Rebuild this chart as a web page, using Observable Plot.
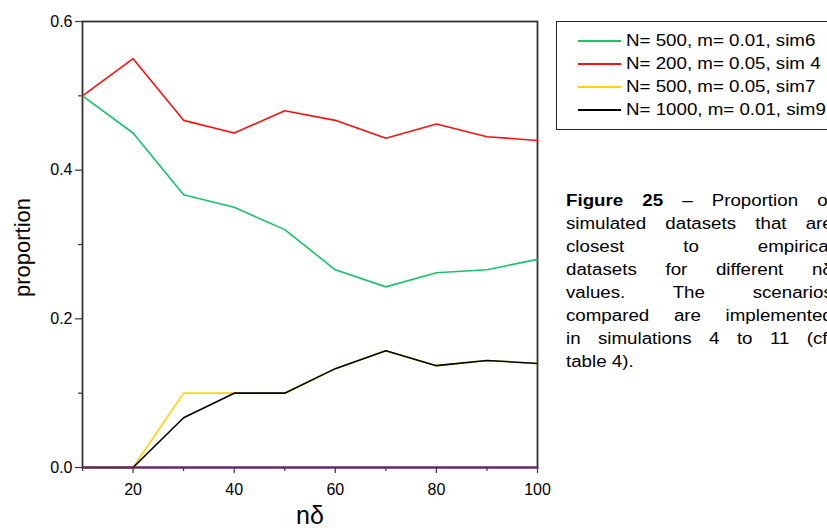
<!DOCTYPE html>
<html>
<head>
<meta charset="utf-8">
<script src="https://cdn.jsdelivr.net/npm/d3@7"></script>
<script src="https://cdn.jsdelivr.net/npm/@observablehq/plot@0.6"></script>
<style>
  html, body { margin: 0; padding: 0; background: #fff; }
  body { width: 827px; height: 532px; overflow: hidden; position: relative;
         font-family: "Liberation Sans", Arial, sans-serif; }
  #chart { position: absolute; left: 0; top: 0; }
  #legend { position: absolute; left: 556px; top: 21px; width: 300px; height: 109px;
            border: 1px solid #222; box-sizing: border-box; background: #fff; }
  .lg-row { position: absolute; left: 21px; height: 20px; display: flex; align-items: center;
            font-size: 16px; color: #000; white-space: nowrap; }
  .lg-row .swatch { display: inline-block; width: 43px; height: 2px; margin-right: 5px; }
  .lg-row .txt { display: inline-block; transform: scaleX(1.17); transform-origin: left center; }
  #caption { position: absolute; left: 566px; top: 189px; width: 228px;
             font-size: 16px; line-height: 23px; color: #000;
             transform: scaleX(1.17); transform-origin: left top; }
  #caption .ln { display: block; text-align: justify; text-align-last: justify; white-space: nowrap; }
  #caption .ln.last { text-align-last: left; }
</style>
</head>
<body>
<div id="chart"></div>
<div id="legend"></div>
<div id="caption"></div>
<script>
// nδ values on the x axis
const nDelta = [10, 20, 30, 40, 50, 60, 70, 80, 90, 100];

// proportion of closest simulated datasets, one array per scenario
const sim6 = [0.5, 0.45, 0.367, 0.35, 0.32, 0.266, 0.243, 0.262, 0.266, 0.28];
const sim4 = [0.5, 0.55, 0.467, 0.45, 0.48, 0.467, 0.443, 0.462, 0.445, 0.44];
const sim7 = [0, 0, 0.1, 0.1, 0.1, 0.133, 0.157, 0.137, 0.144, 0.14];
const sim9 = [0, 0, 0.067, 0.1, 0.1, 0.133, 0.157, 0.137, 0.144, 0.14];
// remaining scenarios, never closest
const others = [0, 0, 0, 0, 0, 0, 0, 0, 0, 0];

const seriesNames = ["N= 500, m= 0.01, sim6", "N= 200, m= 0.05, sim 4", "N= 500, m= 0.05, sim7", "N= 1000, m= 0.01, sim9"];
const seriesColors = ["#16c468", "#ff1010", "#ffd400", "#000000"];
const othersColor = "#6a1c78";

const yTicks = [0, 0.2, 0.4, 0.6];
const yMinor = [0.1, 0.3, 0.5];
const xTicks = [20, 40, 60, 80, 100];
const xMinor = [10, 30, 50, 70, 90];

const toRows = (vals) => nDelta.map((x, i) => ({x, y: vals[i]}));

const lineOpts = {x: "x", y: "y", strokeWidth: 1.6, strokeLinejoin: "round"};
const tickStyle = {stroke: "#333", strokeWidth: 1.2, label: null};

const chart = Plot.plot({
  width: 827,
  height: 532,
  marginLeft: 82,
  marginRight: 290,
  marginTop: 21,
  marginBottom: 65,
  style: {fontFamily: "'Liberation Sans', Arial, sans-serif", fontSize: "16px", color: "#000", background: "#fff"},
  x: {domain: [10, 100], label: null},
  y: {domain: [0, 0.6], label: null},
  marks: [
    Plot.frame({stroke: "#333", strokeWidth: 1.8}),
    // minor ticks
    Plot.axisY(yMinor, {...tickStyle, tickSize: 4, tickFormat: () => ""}),
    Plot.axisX(xMinor, {...tickStyle, tickSize: 4, tickFormat: () => ""}),
    // major ticks with labels
    Plot.axisY(yTicks, {...tickStyle, tickSize: 7, tickPadding: 3, tickFormat: d3.format(".1f"), fontSize: 16}),
    Plot.axisX(xTicks, {...tickStyle, tickSize: 6, tickPadding: 10, tickFormat: d3.format("d"), fontSize: 16}),
    // series
    Plot.line(toRows(sim6), {...lineOpts, stroke: seriesColors[0]}),
    Plot.line(toRows(sim7), {...lineOpts, stroke: seriesColors[2]}),
    Plot.line(toRows(sim9), {...lineOpts, stroke: seriesColors[3]}),
    Plot.line(toRows(sim4), {...lineOpts, stroke: seriesColors[1]}),
    Plot.line(toRows(others), {...lineOpts, stroke: othersColor, strokeWidth: 2}),
    // axis titles
    Plot.text(["proportion"], {frameAnchor: "left", dx: -60, dy: 3, rotate: -90, textAnchor: "middle", fontSize: 22, fill: "#000"}),
    Plot.text(["nδ"], {frameAnchor: "bottom", dy: 56, fontSize: 25, fill: "#000"})
  ]
});
document.getElementById("chart").appendChild(chart);

// legend
const legend = document.getElementById("legend");
const rowTops = [9, 32, 55, 78];
seriesNames.forEach((name, i) => {
  const row = document.createElement("div");
  row.className = "lg-row";
  row.style.top = rowTops[i] + "px";
  const sw = document.createElement("span");
  sw.className = "swatch";
  sw.style.background = seriesColors[i];
  const txt = document.createElement("span");
  txt.className = "txt";
  txt.textContent = name;
  row.appendChild(sw);
  row.appendChild(txt);
  legend.appendChild(row);
});

// figure caption, one justified line per row
const captionLines = [
  "<b>Figure 25</b> – Proportion of",
  "simulated datasets that are",
  "closest to empirical",
  "datasets for different nδ",
  "values. The scenarios",
  "compared are implemented",
  "in simulations 4 to 11 (cf.",
  "table 4)."
];
const cap = document.getElementById("caption");
captionLines.forEach((t, i) => {
  const s = document.createElement("span");
  s.className = "ln" + (i === captionLines.length - 1 ? " last" : "");
  s.innerHTML = t;
  cap.appendChild(s);
});
</script>
</body>
</html>
